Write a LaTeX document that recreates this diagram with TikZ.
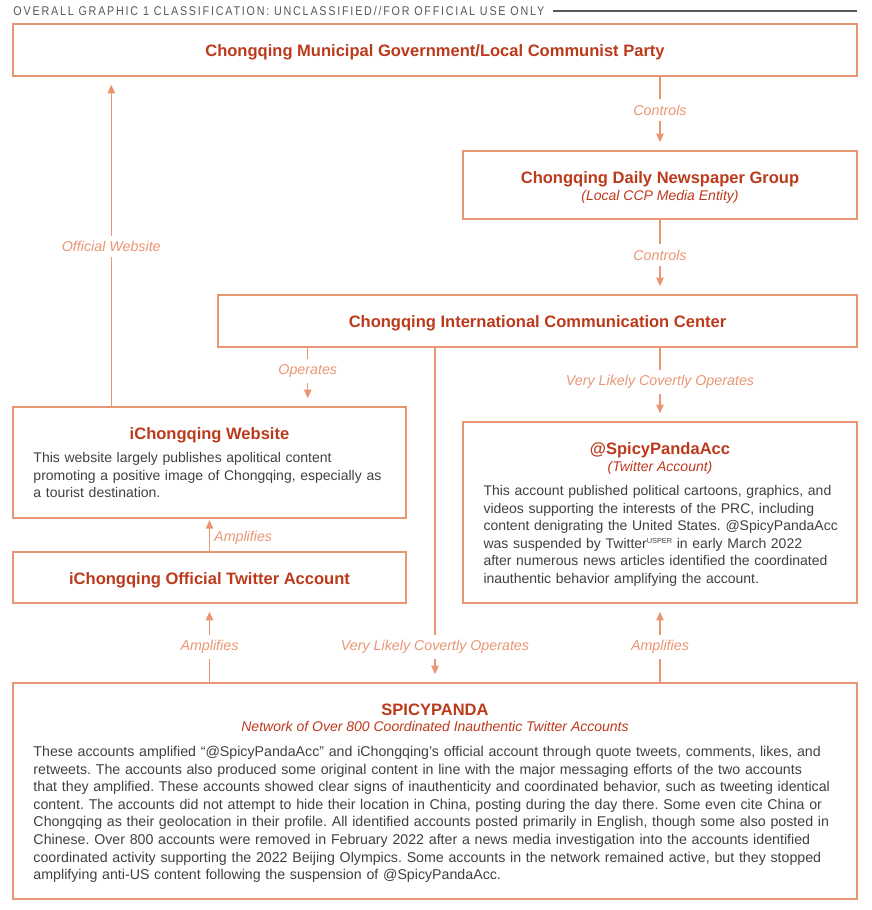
\documentclass[tikz,border=0pt]{standalone}
\usepackage{fontspec}
\setmainfont{Liberation Sans}
\newfontfamily\headfont[FakeStretch=0.85,LetterSpace=14]{Liberation Sans}
\usetikzlibrary{arrows.meta,calc}

\definecolor{edgeorange}{RGB}{234,150,115}
\definecolor{titlered}{RGB}{188,58,28}
\definecolor{bodygray}{RGB}{64,64,64}
\definecolor{headgray}{RGB}{88,88,88}

\tikzset{every picture/.style={line width=0.75pt}}
\tikzset{
  box/.style={draw=edgeorange, line width=1.1pt, anchor=north west, inner sep=0pt, outer sep=0pt},
  boxtitle/.style={anchor=base, inner sep=0pt, text=titlered, font=\fontsize{12.4}{14}\selectfont\bfseries},
  boxsub/.style={anchor=base, inner sep=0pt, text=titlered, font=\fontsize{10.5}{12}\selectfont\itshape},
  boxbody/.style={anchor=base west, inner sep=0pt, text=bodygray, align=left, font=\fontsize{10.5}{13.2}\selectfont\frenchspacing},
  link/.style={draw=edgeorange, line width=1.1pt, -{Triangle[length=6.5pt,width=5.5pt]}, shorten >=6.5pt},
  linklabel/.style={fill=white, text=edgeorange, inner xsep=2pt, inner ysep=4pt, font=\fontsize{10.7}{12}\selectfont\itshape},
}

\begin{document}
\begin{tikzpicture}[x=0.75pt,y=0.75pt,yscale=-1,xscale=1]
\useasboundingbox (0,0) rectangle (871,910);

% Header
\node [anchor=base west, inner sep=0pt, text=headgray, font=\headfont\fontsize{9.5}{10}\selectfont] (hdr) at (13,15.5) {OVERALL GRAPHIC 1 CLASSIFICATION: UNCLASSIFIED//FOR OFFICIAL USE ONLY};
\coordinate (ruleS) at ([xshift=6pt]hdr.east);
\draw [headgray, line width=1.1pt] (ruleS |- 0,11) -- (857,11) ;

%Shape: Rectangle [cmg] 
\node [box, minimum width=633pt, minimum height=39pt] (cmg) at (13,24) {};
%Shape: Rectangle [daily] 
\node [box, minimum width=295.5pt, minimum height=51pt] (daily) at (463,151) {};
%Shape: Rectangle [icc] 
\node [box, minimum width=479.25pt, minimum height=39pt] (icc) at (218,295) {};
%Shape: Rectangle [web] 
\node [box, minimum width=294.75pt, minimum height=83.25pt] (web) at (13,407) {};
%Shape: Rectangle [acc] 
\node [box, minimum width=295.5pt, minimum height=135.75pt] (acc) at (463,422) {};
%Shape: Rectangle [tw] 
\node [box, minimum width=294.75pt, minimum height=38.25pt] (tw) at (13,552) {};
%Shape: Rectangle [spicy] 
\node [box, minimum width=633pt, minimum height=162pt] (spicy) at (13,683) {};

% Text Node
\node [boxtitle] (cmgT) at (435,56) {Chongqing Municipal Government/Local Communist Party};
% Text Node
\node [boxtitle] (dailyT) at (660,183) {Chongqing Daily Newspaper Group};
\node [boxsub] (dailyS) at (660,200.5) {(Local CCP Media Entity)};
% Text Node
\node [boxtitle] (iccT) at (537.5,327) {Chongqing International Communication Center};
% Text Node
\node [boxtitle] (webT) at (209.5,439) {iChongqing Website};
\node [boxbody, text width=285pt] (webB) at (33,462.5) {This website largely publishes apolitical content\\
promoting a positive image of Chongqing, especially as\\
a tourist destination.};
% Text Node
\node [boxtitle] (accT) at (660,454) {@SpicyPandaAcc};
\node [boxsub] (accS) at (660,471.5) {(Twitter Account)};
\node [boxbody, text width=285pt] (accB) at (483,495.5) {This account published political cartoons, graphics, and\\
videos supporting the interests of the PRC, including\\
content denigrating the United States. @SpicyPandaAcc\\
was suspended by Twitter\raisebox{0.6ex}{\fontsize{5.5}{5.5}\selectfont USPER} in early March 2022\\
after numerous news articles identified the coordinated\\
inauthentic behavior amplifying the account.};
% Text Node
\node [boxtitle] (twT) at (209.5,584) {iChongqing Official Twitter Account};
% Text Node
\node [boxtitle] (spicyT) at (435,715) {SPICYPANDA};
\node [boxsub] (spicyS) at (435,731.5) {Network of Over 800 Coordinated Inauthentic Twitter Accounts};
\node [boxbody, text width=625pt, font=\fontsize{10.65}{13.2}\selectfont\frenchspacing] (spicyB) at (33,756.5) {These accounts amplified “@SpicyPandaAcc” and iChongqing’s official account through quote tweets, comments, likes, and\\
retweets. The accounts also produced some original content in line with the major messaging efforts of the two accounts\\
that they amplified. These accounts showed clear signs of inauthenticity and coordinated behavior, such as tweeting identical\\
content. The accounts did not attempt to hide their location in China, posting during the day there. Some even cite China or\\
Chongqing as their geolocation in their profile. All identified accounts posted primarily in English, though some also posted in\\
Chinese. Over 800 accounts were removed in February 2022 after a news media investigation into the accounts identified\\
coordinated activity supporting the 2022 Beijing Olympics. Some accounts in the network remained active, but they stopped\\
amplifying anti-US content following the suspension of @SpicyPandaAcc.};

% Connectors
\coordinate (webL) at ($(web.north west)!.25!(web.north east)$);
\coordinate (webR) at ($(web.north west)!.75!(web.north east)$);
%Straight Lines [controls]
\draw [link] (cmg.south -| daily.north) -- node [linklabel, pos=.453] (ctlA) {Controls} (daily.north) ;
\draw [link] (daily.south) -- node [linklabel, pos=.474] (ctlB) {Controls} (daily.south |- icc.north) ;
%Straight Lines [official website]
\draw [link] (webL) -- node [linklabel, pos=.486] (offW) {Official Website} (webL |- cmg.south) ;
%Straight Lines [operates]
\draw [link] (webR |- icc.south) -- node [linklabel, pos=.4] (opW) {Operates} (webR) ;
\draw [link] (acc.north |- icc.south) -- node [linklabel, pos=.467] (opA) {Very Likely Covertly Operates} (acc.north) ;
\draw [link] (spicy.north |- icc.south) -- node [linklabel, pos=.893] (opS) {Very Likely Covertly Operates} (spicy.north) ;
%Straight Lines [amplifies]
\draw [link, shorten >=1.5pt] (tw.north) -- node [linklabel, fill=none, anchor=west, inner xsep=3pt, pos=.41] (ampW) {Amplifies} (web.south) ;
\draw [link] (spicy.north -| tw.south) -- node [linklabel, pos=.45] (ampT) {Amplifies} (tw.south) ;
\draw [link] (spicy.north -| acc.south) -- node [linklabel, pos=.45] (ampA) {Amplifies} (acc.south) ;

\end{tikzpicture}
\end{document}
